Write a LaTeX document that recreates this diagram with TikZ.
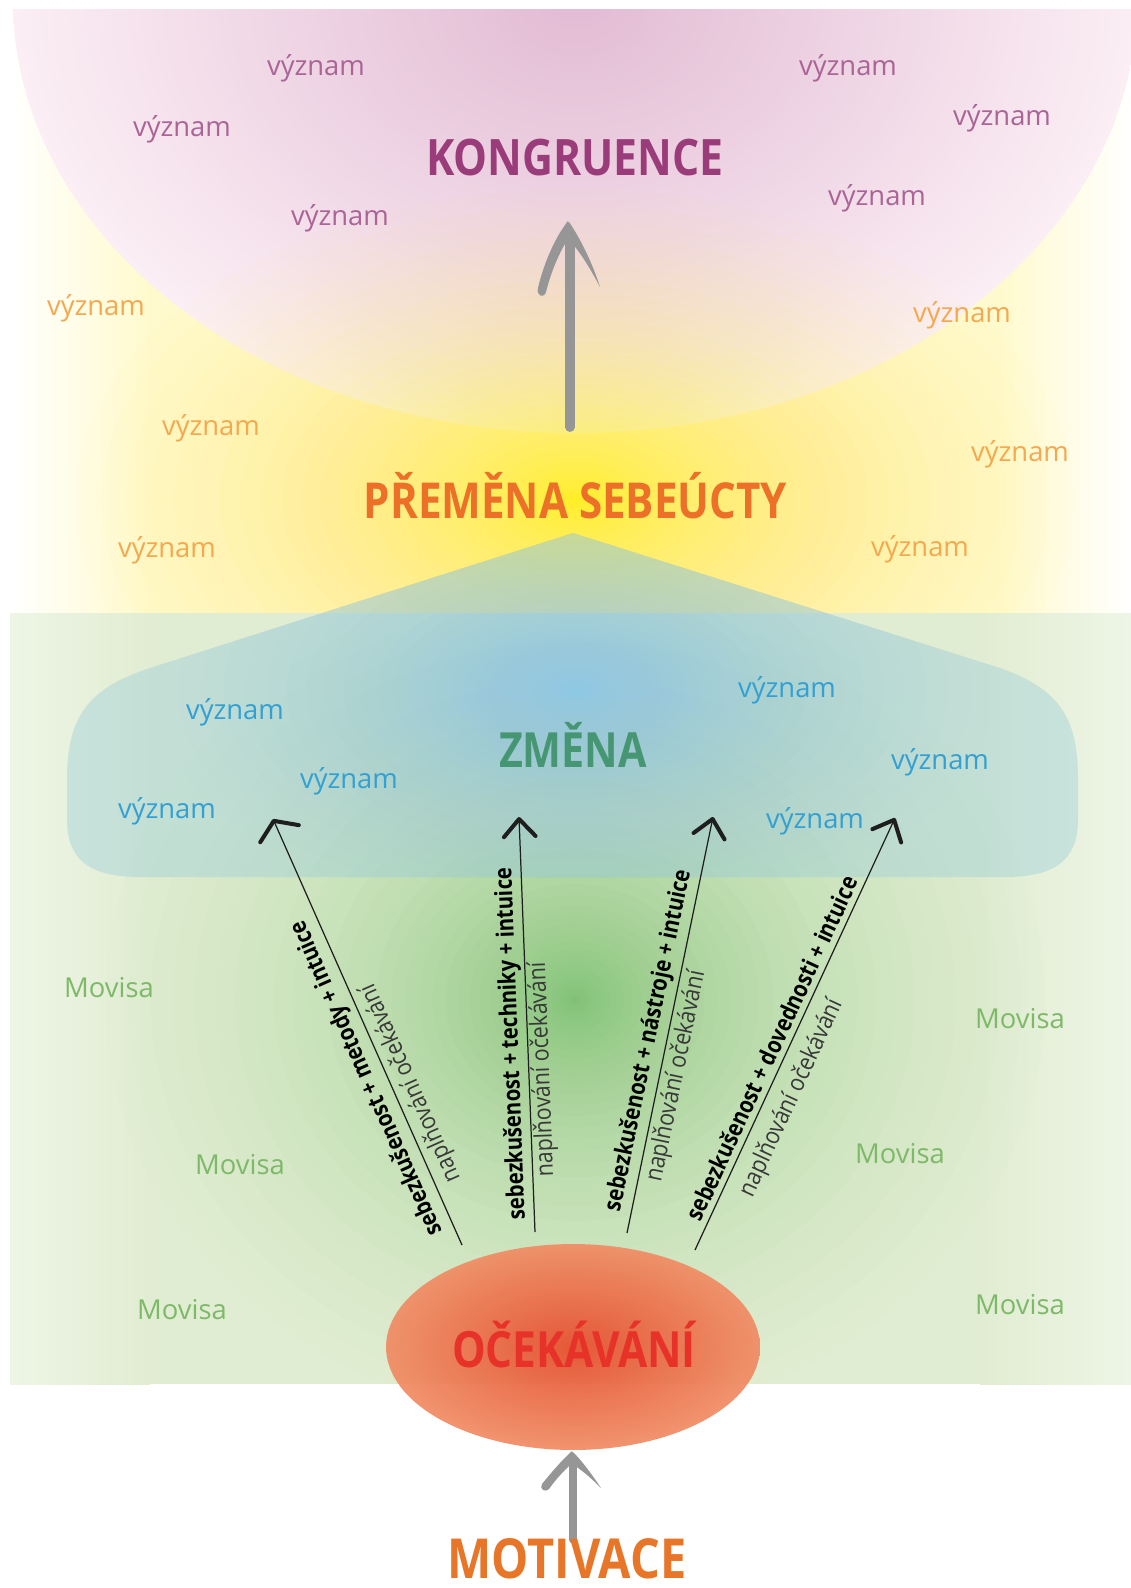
\documentclass[tikz,border=0pt]{standalone}
\usepackage{fontspec}
\setmainfont{Open Sans}
\newfontfamily\hfont{Open Sans}[FakeStretch=0.85]
\newfontfamily\lfont{Open Sans}[FakeStretch=0.88]
\usetikzlibrary{arrows.meta,calc,shapes.geometric}
\definecolor{cPinkIn}{RGB}{226,187,212}
\definecolor{cPinkOut}{RGB}{251,238,244}
\definecolor{cYelBase}{RGB}{255,250,205}
\definecolor{cYelGlow}{RGB}{255,238,0}
\definecolor{cGrnBase}{RGB}{225,237,210}
\definecolor{cGrnEdge}{RGB}{238,245,230}
\definecolor{cGrnGlow}{RGB}{100,182,90}
\definecolor{cCloud}{RGB}{160,208,218}
\definecolor{cBlueGlow}{RGB}{135,200,240}
\definecolor{cEllIn}{RGB}{230,78,45}
\definecolor{cEllOut}{RGB}{240,140,100}
\definecolor{tPink}{RGB}{170,100,150}
\definecolor{tKong}{RGB}{155,60,122}
\definecolor{tOrange}{RGB}{244,168,80}
\definecolor{tPrem}{RGB}{236,112,40}
\definecolor{tBlue}{RGB}{50,160,210}
\definecolor{tZmena}{RGB}{70,150,115}
\definecolor{tMovisa}{RGB}{125,185,105}
\definecolor{tOcek}{RGB}{230,50,40}
\definecolor{tMotiv}{RGB}{232,118,40}
\definecolor{cArrGray}{RGB}{150,150,150}
\definecolor{cArrBlack}{RGB}{30,30,30}
\def\cloudpath{(573,533) -- (150,668) .. controls (85,689) and (67,720) .. (67,780) -- (67,820) .. controls (67,860) and (90,877) .. (140,877) -- (1005,877) .. controls (1055,877) and (1078,860) .. (1078,820) -- (1078,780) .. controls (1078,720) and (1062,690) .. (1000,668) -- cycle}
\begin{document}
\begin{tikzpicture}[x=0.02cm,y=-0.02cm,
  head/.style={font=\hfont\bfseries\fontsize{#1}{#1}\selectfont, inner sep=0, anchor=base},
  vyz/.style={font=\fontsize{15.6}{18}\selectfont, inner sep=0},
  vpink/.style={vyz, text=tPink},
  vorange/.style={vyz, text=tOrange},
  vblue/.style={vyz, text=tBlue},
  movisa/.style={vyz, text=tMovisa},
  boldlab/.style={font=\hfont\bfseries\fontsize{13.6}{15}\selectfont, inner sep=0, text=black},
  reglab/.style={font=\lfont\fontsize{13.8}{15}\selectfont, inner sep=0, text=black!78},
  thinarr/.style={draw=cArrBlack, line width=0.7pt, -{Straight Barb[length=10pt,width=18pt,line width=2.3pt,round]}},
  widearr/.style={draw=cArrBlack, line width=0.7pt, -{Straight Barb[length=8pt,width=24pt,line width=2.3pt,round]}},
  grayshaft/.style={draw=cArrGray, line cap=round}
]
\useasboundingbox (0,0) rectangle (1131,1588);
\fill[white] (0,0) rectangle (1131,1588);

% ---- yellow band
\fill[cYelBase] (149,10) rectangle (1001,613);
\shade[left color=white, right color=cYelBase] (10,10) rectangle (150,613);
\shade[left color=cYelBase, right color=white] (1000,10) rectangle (1131,613);

% ---- pink bowl
\begin{scope}
  \clip (10,10) rectangle (1131,613);
  \shade[inner color=cPinkIn, outer color=cPinkOut] (575,0) ellipse [x radius=562, y radius=433];
\end{scope}

% ---- yellow glow (concentrated at the centre, soft rim)
\begin{scope}
  \clip (10,10) rectangle (1131,613);
  \foreach \i in {0,...,39} {
    \pgfmathsetmacro\op{0.014+0.056*\i/40}
    \fill[cYelGlow, fill opacity=\op] (575,500) ellipse [x radius={500*(1-\i/40)^2.1}, y radius={310*(1-\i/40)^2.1}];
  }
\end{scope}

% ---- green band
\fill[cGrnBase] (149,613) rectangle (981,1384);
\shade[left color=cGrnEdge, right color=cGrnBase] (10,613) rectangle (150,1384);
\shade[left color=cGrnBase, right color=cGrnEdge] (980,613) rectangle (1131,1384);
\begin{scope}
  \clip (10,613) rectangle (1131,1384);
  \foreach \i in {0,...,39} {
    \pgfmathsetmacro\op{0.01+0.045*\i/40}
    \fill[cGrnGlow, fill opacity=\op] (575,1000) ellipse [x radius={470*(1-\i/40)^2}, y radius={420*(1-\i/40)^2}];
  }
\end{scope}

% ---- cloud
\fill[cCloud, fill opacity=0.45] \cloudpath;
\begin{scope}
  \clip \cloudpath;
  \foreach \i in {0,...,34} {
    \pgfmathsetmacro\op{0.015+0.06*\i/35}
    \fill[cBlueGlow, fill opacity=\op] (575,690) ellipse [x radius={420*(1-\i/35)^2}, y radius={230*(1-\i/35)^2}];
  }
\end{scope}

% ---- expectation ellipse
\node[ellipse, minimum width=7.48cm, minimum height=4.12cm, inner sep=0,
      shade, inner color=cEllIn, outer color=cEllOut, fill opacity=0.93] (ocek) at (573,1347) {};

% ---- big gray arrow
\coordinate (ga0) at (570,427);
\coordinate (ga1) at (570,236);
\draw[grayshaft, line width=5.6pt] (ga0) -- (ga1);
\fill[cArrGray] (568,221) .. controls (556,236) and (544,262) .. (538,288) .. controls (536,296) and (544,299) .. (546,292) .. controls (552,268) and (562,246) .. (573,232) -- cycle;
\fill[cArrGray] (569,222) .. controls (580,238) and (592,262) .. (600,287) .. controls (590,268) and (580,252) .. (571,242) -- cycle;

% ---- bottom gray arrow
\coordinate (gb0) at (573,1540);
\coordinate (gb1) at (573,1460);
\draw[grayshaft, line width=4pt] (gb0) -- (gb1);
\fill[cArrGray] (572,1451) .. controls (562,1460) and (550,1474) .. (542,1484) .. controls (539,1489) and (545,1493) .. (549,1489) .. controls (556,1479) and (566,1468) .. (576,1460) -- cycle;
\fill[cArrGray] (573,1452) .. controls (583,1462) and (593,1476) .. (601,1488) .. controls (591,1478) and (582,1470) .. (572,1464) -- cycle;

% ---- thin arrows
\coordinate (t1) at (462,1245); \coordinate (h1) at (273,819);
\coordinate (t2) at (535,1232); \coordinate (h2) at (519,817);
\coordinate (t3) at (627,1233); \coordinate (h3) at (713,817);
\coordinate (t4) at (695,1250); \coordinate (h4) at (895,818);
\draw[widearr] (t1) -- (h1);
\draw[thinarr] (t2) -- (h2);
\draw[thinarr] (t3) -- (h3);
\draw[thinarr] (t4) -- (h4);

\coordinate (mb1) at ($(t1)!0.41!(h1)$);
\coordinate (mr1) at ($(t1)!0.362!(h1)$);
\coordinate (mb2) at ($(t2)!0.455!(h2)$);
\coordinate (mr2) at ($(t2)!0.39!(h2)$);
\coordinate (mb3) at ($(t3)!0.454!(h3)$);
\coordinate (mr3) at ($(t3)!0.385!(h3)$);
\coordinate (mb4) at ($(t4)!0.4525!(h4)$);
\coordinate (mr4) at ($(t4)!0.375!(h4)$);

\node[boldlab, rotate=113.93] (b1) at ($(mb1)!0.372cm!90:(h1)$) {sebezkušenost + metody + intuice};
\node[reglab, rotate=113.93] (r1) at ($(mr1)!0.38cm!-90:(h1)$) {naplňování očekávání};
\node[boldlab, rotate=92.2] (b2) at ($(mb2)!0.32cm!90:(h2)$) {sebezkušenost + techniky + intuice};
\node[reglab, rotate=92.2] (r2) at ($(mr2)!0.28cm!-90:(h2)$) {naplňování očekávání};
\node[boldlab, rotate=78.32] (b3) at ($(mb3)!0.352cm!90:(h3)$) {sebezkušenost + nástroje + intuice};
\node[reglab, rotate=78.32] (r3) at ($(mr3)!0.332cm!-90:(h3)$) {naplňování očekávání};
\node[boldlab, rotate=65.16] (b4) at ($(mb4)!0.306cm!90:(h4)$) {sebezkušenost + dovednosti + intuice};
\node[reglab, rotate=65.16] (r4) at ($(mr4)!0.476cm!-90:(h4)$) {naplňování očekávání};

% ---- headings
\node[head=28.6, text=tKong] (kong) at (575,176) {KONGRUENCE};
\node[head=28.2, text=tPrem] (prem) at (575.5,518) {PŘEMĚNA SEBEÚCTY};
\node[head=27.6, text=tZmena] (zmena) at (573,767) {ZMĚNA};
\node[head=28.4, text=tOcek] (ocektext) at (574,1367) {OČEKÁVÁNÍ};
\node[head=31.4, text=tMotiv] (motiv) at (567,1578) {MOTIVACE};

% ---- význam labels
\node[vpink] (v1) at (316,68) {význam};
\node[vpink] (v2) at (182,129) {význam};
\node[vpink] (v3) at (340,218) {význam};
\node[vpink] (v4) at (848,68) {význam};
\node[vpink] (v5) at (1002,118) {význam};
\node[vpink] (v6) at (877,198) {význam};
\node[vorange] (v7) at (96,308) {význam};
\node[vorange] (v8) at (211,428) {význam};
\node[vorange] (v9) at (167,550) {význam};
\node[vorange] (v10) at (962,315) {význam};
\node[vorange] (v11) at (1020,454) {význam};
\node[vorange] (v12) at (920,549) {význam};
\node[vblue] (v13) at (235,712) {význam};
\node[vblue] (v14) at (349,781) {význam};
\node[vblue] (v15) at (167,811) {význam};
\node[vblue] (v16) at (787,690) {význam};
\node[vblue] (v17) at (940,762) {význam};
\node[vblue] (v18) at (815,821) {význam};

% ---- Movisa labels
\node[movisa] (m1) at (109,988) {Movisa};
\node[movisa] (m2) at (240,1165) {Movisa};
\node[movisa] (m3) at (182,1310) {Movisa};
\node[movisa] (m4) at (1020,1019) {Movisa};
\node[movisa] (m5) at (900,1154) {Movisa};
\node[movisa] (m6) at (1020,1305) {Movisa};
\end{tikzpicture}
\end{document}
